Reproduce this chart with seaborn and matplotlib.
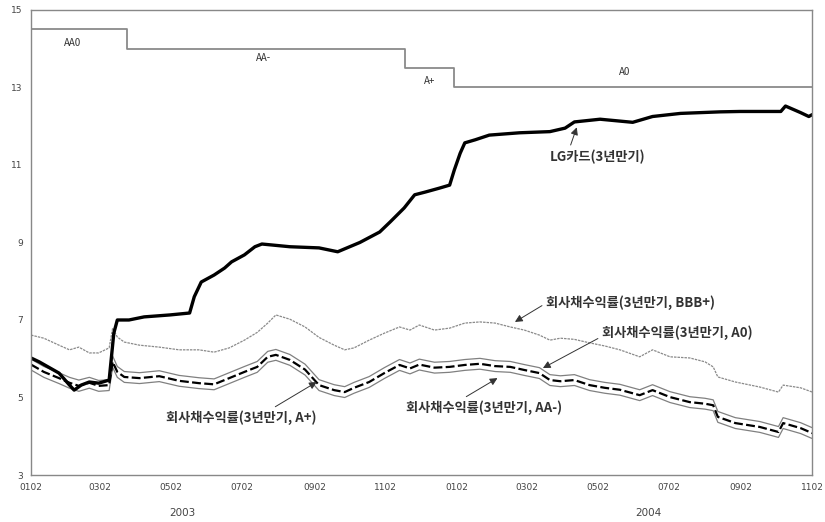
import pandas as pd
import matplotlib.pyplot as plt
import matplotlib.dates as mdates
import seaborn as sns

# 회사채 수익률 (A+, A0, AA-, BBB+) 공통 날짜
bond_dates = ["2003-01-02", "2003-01-13", "2003-01-26", "2003-02-04", "2003-02-12", "2003-02-21",
              "2003-03-01", "2003-03-10", "2003-03-13", "2003-03-17", "2003-03-23", "2003-04-05",
              "2003-04-22", "2003-05-09", "2003-05-26", "2003-06-08", "2003-06-21", "2003-07-04",
              "2003-07-15", "2003-07-24", "2003-07-31", "2003-08-12", "2003-08-25", "2003-09-06",
              "2003-09-19", "2003-09-28", "2003-10-06", "2003-10-19", "2003-11-01", "2003-11-14",
              "2003-11-23", "2003-12-01", "2003-12-14", "2003-12-27", "2004-01-09", "2004-01-22",
              "2004-02-04", "2004-02-17", "2004-02-29", "2004-03-13", "2004-03-22", "2004-03-31",
              "2004-04-12", "2004-04-25", "2004-05-08", "2004-05-21", "2004-06-07", "2004-06-18",
              "2004-07-03", "2004-07-20", "2004-08-02", "2004-08-09", "2004-08-13", "2004-08-28",
              "2004-09-18", "2004-10-04", "2004-10-08", "2004-10-23", "2004-11-02"]

a_plus = [5.85, 5.66, 5.50, 5.38, 5.30, 5.38, 5.30, 5.32, 5.92, 5.66, 5.53, 5.50, 5.55, 5.43, 5.37,
          5.34, 5.50, 5.66, 5.79, 6.05, 6.10, 5.97, 5.72, 5.32, 5.19, 5.14, 5.25, 5.40, 5.63, 5.84,
          5.75, 5.85, 5.77, 5.79, 5.84, 5.87, 5.81, 5.79, 5.71, 5.63, 5.45, 5.42, 5.45, 5.32, 5.25,
          5.20, 5.06, 5.19, 5.01, 4.88, 4.84, 4.80, 4.50, 4.34, 4.24, 4.11, 4.34, 4.21, 4.08]

a_zero = [5.99, 5.80, 5.64, 5.52, 5.45, 5.52, 5.44, 5.46, 6.07, 5.80, 5.67, 5.64, 5.69, 5.57, 5.51,
          5.48, 5.64, 5.80, 5.93, 6.19, 6.24, 6.11, 5.86, 5.46, 5.33, 5.28, 5.39, 5.54, 5.77, 5.98,
          5.89, 5.99, 5.91, 5.93, 5.98, 6.01, 5.95, 5.93, 5.85, 5.77, 5.59, 5.56, 5.59, 5.46, 5.39,
          5.34, 5.20, 5.33, 5.15, 5.02, 4.98, 4.94, 4.64, 4.48, 4.38, 4.25, 4.48, 4.35, 4.22]

aa_minus = [5.71, 5.52, 5.36, 5.24, 5.16, 5.24, 5.16, 5.18, 5.78, 5.52, 5.39, 5.36, 5.41, 5.29, 5.23,
            5.20, 5.36, 5.52, 5.65, 5.91, 5.96, 5.83, 5.58, 5.18, 5.05, 5.00, 5.11, 5.26, 5.49, 5.70,
            5.61, 5.71, 5.63, 5.65, 5.70, 5.73, 5.67, 5.65, 5.57, 5.49, 5.31, 5.28, 5.31, 5.18, 5.11,
            5.06, 4.92, 5.05, 4.87, 4.74, 4.70, 4.66, 4.36, 4.20, 4.10, 3.97, 4.20, 4.07, 3.94]

bbb_plus = [6.61, 6.53, 6.35, 6.23, 6.30, 6.15, 6.15, 6.28, 6.79, 6.56, 6.43, 6.35, 6.30, 6.23, 6.23,
            6.17, 6.28, 6.48, 6.68, 6.92, 7.13, 7.02, 6.82, 6.55, 6.35, 6.23, 6.28, 6.48, 6.66, 6.82,
            6.74, 6.87, 6.74, 6.79, 6.92, 6.95, 6.92, 6.82, 6.74, 6.61, 6.48, 6.53, 6.50, 6.41, 6.33,
            6.23, 6.05, 6.23, 6.05, 6.02, 5.92, 5.79, 5.53, 5.40, 5.27, 5.14, 5.32, 5.25, 5.14]

# LG카드 (3년만기)
lg_dates = ["2003-01-02", "2003-01-09", "2003-01-26", "2003-02-04", "2003-02-08", "2003-02-14",
            "2003-02-21", "2003-03-01", "2003-03-10", "2003-03-14", "2003-03-17", "2003-03-27",
            "2003-04-09", "2003-05-01", "2003-05-18", "2003-05-22", "2003-05-28", "2003-06-08",
            "2003-06-17", "2003-06-23", "2003-07-04", "2003-07-13", "2003-07-19", "2003-08-12",
            "2003-09-06", "2003-09-22", "2003-10-11", "2003-10-28", "2003-11-06", "2003-11-18",
            "2003-11-27", "2003-12-06", "2003-12-18", "2003-12-27", "2003-12-31", "2004-01-05",
            "2004-01-09", "2004-01-18", "2004-01-30", "2004-02-25", "2004-03-22", "2004-04-04",
            "2004-04-12", "2004-05-04", "2004-06-01", "2004-06-18", "2004-07-12", "2004-08-15",
            "2004-09-01", "2004-10-06", "2004-10-10", "2004-10-23", "2004-10-30", "2004-11-02"]
lg_card = [6.02, 5.92, 5.63, 5.32, 5.19, 5.32, 5.40, 5.37, 5.45, 6.66, 7.00, 7.00, 7.08, 7.13, 7.18,
           7.60, 7.98, 8.16, 8.34, 8.50, 8.68, 8.89, 8.96, 8.89, 8.86, 8.76, 9.00, 9.27, 9.53, 9.89,
           10.23, 10.30, 10.40, 10.48, 10.87, 11.30, 11.57, 11.65, 11.77, 11.83, 11.86, 11.95, 12.11,
           12.18, 12.10, 12.25, 12.33, 12.37, 12.38, 12.38, 12.52, 12.35, 12.25, 12.30]

# LG카드 신용등급
rating_dates = ["2003-01-02", "2003-03-25", "2003-11-19", "2003-12-31", "2004-11-02"]
rating_level = [14.5, 14.0, 13.5, 13.0, 13.0]
rating_names = ["AA0", "AA-", "A+", "A0"]

tick_dates = ["2003-01-02", "2003-03-02", "2003-05-02", "2003-07-02", "2003-09-02", "2003-11-02",
              "2004-01-02", "2004-03-02", "2004-05-02", "2004-07-02", "2004-09-02", "2004-11-02"]

sns.set_style("white")
plt.rcParams["font.family"] = ["Noto Sans CJK KR", "DejaVu Sans"]

fig = plt.figure(figsize=(8.25, 5.22), dpi=100)
ax = fig.add_axes([0.0376, 0.090, 0.947, 0.891])

bond = pd.DataFrame({"date": pd.to_datetime(bond_dates), "A+": a_plus, "A0": a_zero,
                     "AA-": aa_minus, "BBB+": bbb_plus})
lg = pd.DataFrame({"date": pd.to_datetime(lg_dates), "LG": lg_card})

sns.lineplot(data=bond, x="date", y="BBB+", ax=ax, color="#8a8a8a", lw=0.9,
             linestyle=(0, (2, 0.8)))
sns.lineplot(data=bond, x="date", y="A0", ax=ax, color="#808080", lw=0.9)
sns.lineplot(data=bond, x="date", y="AA-", ax=ax, color="#808080", lw=0.9)
sns.lineplot(data=bond, x="date", y="A+", ax=ax, color="black", lw=1.6,
             linestyle=(0, (4, 1.5)))
sns.lineplot(data=lg, x="date", y="LG", ax=ax, color="black", lw=2.4)

rdates = pd.to_datetime(rating_dates)
ax.step(rdates, rating_level, where="post", color="#8a8a8a", lw=1.3)
ax.text(pd.Timestamp("2003-02-07"), 14.15, rating_names[0], fontsize=7, ha="center",
        va="center", color="#333333")
ax.text(pd.Timestamp("2003-07-20"), 13.76, rating_names[1], fontsize=7, ha="center",
        va="center", color="#333333")
ax.text(pd.Timestamp("2003-12-10"), 13.17, rating_names[2], fontsize=7, ha="center",
        va="center", color="#333333")
ax.text(pd.Timestamp("2004-05-25"), 13.4, rating_names[3], fontsize=7, ha="center",
        va="center", color="#333333")

labels = [
    ("LG카드(3년만기)", "2004-04-14", 11.97, "2004-03-22", 11.21, (0.2, 1)),
    ("회사채수익률(3년만기, BBB+)", "2004-02-21", 6.95, "2004-03-19", 7.44, (0, 0.5)),
    ("회사채수익률(3년만기, A0)", "2004-03-16", 5.76, "2004-05-06", 6.66, (0, 0.3)),
    ("회사채수익률(3년만기, AA-)", "2004-02-06", 5.50, "2003-11-20", 4.73, (0.34, 1)),
    ("회사채수익률(3년만기, A+)", "2003-09-04", 5.40, "2003-04-28", 4.47, (0.68, 1)),
]
for text, tx, ty, lx, ly, rp in labels:
    ax.annotate(text, xy=(pd.Timestamp(tx), ty), xytext=(pd.Timestamp(lx), ly),
                fontsize=9.5, fontweight="bold", color="#333333", ha="left", va="center",
                arrowprops=dict(arrowstyle="-|>", color="#333333", lw=0.7,
                                mutation_scale=11, relpos=rp, shrinkA=1, shrinkB=0))

ax.set_xlim(pd.Timestamp("2003-01-02"), pd.Timestamp("2004-11-02"))
ax.set_ylim(3, 15)
ax.set_yticks([3, 5, 7, 9, 11, 13, 15])
ax.set_xticks(pd.to_datetime(tick_dates))
ax.xaxis.set_major_formatter(mdates.DateFormatter("%m%d"))
ax.tick_params(axis="both", direction="in", length=3, labelsize=6.5, colors="#444444",
               pad=6, width=0.8)
for lab in ax.get_xticklabels() + ax.get_yticklabels():
    lab.set_family(["Liberation Sans Narrow", "DejaVu Sans"])
ax.set_xlabel("")
ax.set_ylabel("")
for sp in ax.spines.values():
    sp.set_color("#888888")
    sp.set_linewidth(1.0)

fig.text(182 / 825, 1 - 513 / 522, "2003", fontsize=7.5, ha="center", va="center",
         color="#444444", family=["Liberation Sans Narrow", "DejaVu Sans"])
fig.text(648 / 825, 1 - 513 / 522, "2004", fontsize=7.5, ha="center", va="center",
         color="#444444", family=["Liberation Sans Narrow", "DejaVu Sans"])

fig.savefig("out.png", dpi=100)
